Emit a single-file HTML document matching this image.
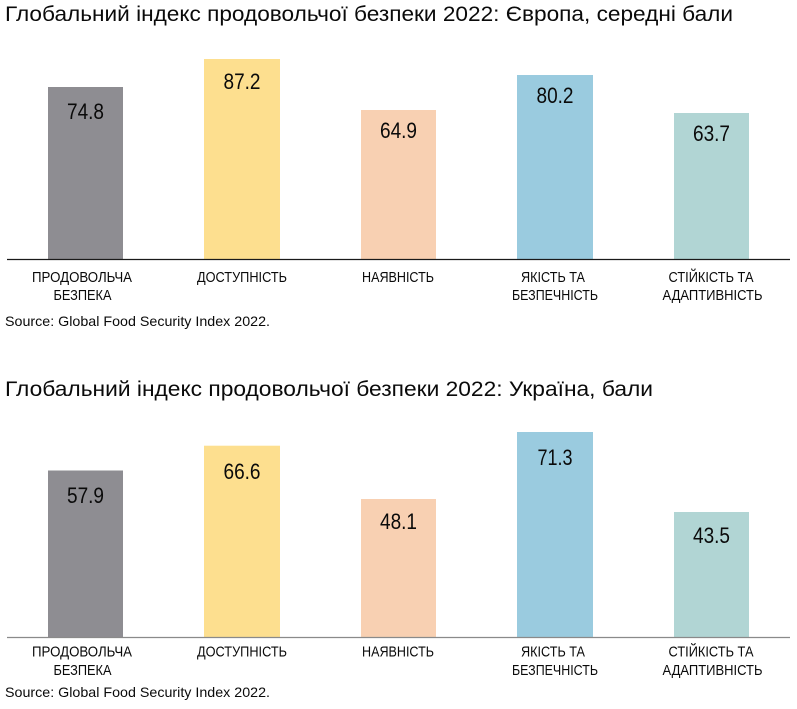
<!DOCTYPE html>
<html>
<head>
<meta charset="utf-8">
<style>
  html,body{margin:0;padding:0;background:#fff;}
  svg{display:block;}
  text{font-family:"Liberation Sans", sans-serif; fill:#0a0a0a;}
  .t{font-size:21px;}
  .v{font-size:22px;}
  .c{font-size:14.5px;}
  .s{font-size:14px;}
</style>
</head>
<body>
<svg width="797" height="709" viewBox="0 0 797 709" xmlns="http://www.w3.org/2000/svg">
  <!-- Chart 1 -->
  <text class="t" x="5" y="21" textLength="728" lengthAdjust="spacingAndGlyphs">Глобальний індекс продовольчої безпеки 2022: Європа, середні бали</text>

  <rect x="48" y="87" width="75" height="172" fill="#8e8d92"/>
  <rect x="204" y="59" width="76" height="200" fill="#fddf8f"/>
  <rect x="361" y="110" width="75" height="149" fill="#f8d0b2"/>
  <rect x="517" y="75" width="76" height="184" fill="#9acbdf"/>
  <rect x="674" y="113" width="75" height="146" fill="#b1d5d4"/>

  <line x1="7" y1="259.5" x2="790" y2="259.5" stroke="#1a1a1a" stroke-width="1.2"/>

  <text class="v" x="85.5" y="119" text-anchor="middle" textLength="37" lengthAdjust="spacingAndGlyphs">74.8</text>
  <text class="v" x="242" y="89" text-anchor="middle" textLength="37" lengthAdjust="spacingAndGlyphs">87.2</text>
  <text class="v" x="398.5" y="138" text-anchor="middle" textLength="37" lengthAdjust="spacingAndGlyphs">64.9</text>
  <text class="v" x="555" y="103" text-anchor="middle" textLength="37" lengthAdjust="spacingAndGlyphs">80.2</text>
  <text class="v" x="711.5" y="141" text-anchor="middle" textLength="37" lengthAdjust="spacingAndGlyphs">63.7</text>

  <text class="c" x="82" y="282" text-anchor="middle" textLength="100" lengthAdjust="spacingAndGlyphs">ПРОДОВОЛЬЧА</text>
  <text class="c" x="82.5" y="300" text-anchor="middle" textLength="58" lengthAdjust="spacingAndGlyphs">БЕЗПЕКА</text>
  <text class="c" x="242" y="282" text-anchor="middle" textLength="90" lengthAdjust="spacingAndGlyphs">ДОСТУПНІСТЬ</text>
  <text class="c" x="398" y="282" text-anchor="middle" textLength="72" lengthAdjust="spacingAndGlyphs">НАЯВНІСТЬ</text>
  <text class="c" x="553" y="282" text-anchor="middle" textLength="64" lengthAdjust="spacingAndGlyphs">ЯКІСТЬ ТА</text>
  <text class="c" x="555" y="300" text-anchor="middle" textLength="86" lengthAdjust="spacingAndGlyphs">БЕЗПЕЧНІСТЬ</text>
  <text class="c" x="711" y="282" text-anchor="middle" textLength="85" lengthAdjust="spacingAndGlyphs">СТІЙКІСТЬ ТА</text>
  <text class="c" x="712.5" y="300" text-anchor="middle" textLength="100" lengthAdjust="spacingAndGlyphs">АДАПТИВНІСТЬ</text>

  <text class="s" x="5" y="326" textLength="265" lengthAdjust="spacingAndGlyphs">Source: Global Food Security Index 2022.</text>

  <!-- Chart 2 -->
  <text class="t" x="5" y="396" textLength="648" lengthAdjust="spacingAndGlyphs">Глобальний індекс продовольчої безпеки 2022: Україна, бали</text>

  <rect x="48" y="470.5" width="75" height="166.5" fill="#8e8d92"/>
  <rect x="204" y="445.7" width="76" height="191.3" fill="#fddf8f"/>
  <rect x="361" y="499" width="75" height="138" fill="#f8d0b2"/>
  <rect x="517" y="432" width="76" height="205" fill="#9acbdf"/>
  <rect x="674" y="512" width="75" height="125" fill="#b1d5d4"/>

  <line x1="7" y1="637.5" x2="790" y2="637.5" stroke="#8a8a8a" stroke-width="1.2"/>

  <text class="v" x="85.5" y="503" text-anchor="middle" textLength="37" lengthAdjust="spacingAndGlyphs">57.9</text>
  <text class="v" x="242" y="479" text-anchor="middle" textLength="37" lengthAdjust="spacingAndGlyphs">66.6</text>
  <text class="v" x="398.5" y="529" text-anchor="middle" textLength="37" lengthAdjust="spacingAndGlyphs">48.1</text>
  <text class="v" x="555" y="465" text-anchor="middle" textLength="35" lengthAdjust="spacingAndGlyphs">71.3</text>
  <text class="v" x="711.5" y="543" text-anchor="middle" textLength="37" lengthAdjust="spacingAndGlyphs">43.5</text>

  <text class="c" x="82" y="656.5" text-anchor="middle" textLength="100" lengthAdjust="spacingAndGlyphs">ПРОДОВОЛЬЧА</text>
  <text class="c" x="82.5" y="675" text-anchor="middle" textLength="58" lengthAdjust="spacingAndGlyphs">БЕЗПЕКА</text>
  <text class="c" x="242" y="656.5" text-anchor="middle" textLength="90" lengthAdjust="spacingAndGlyphs">ДОСТУПНІСТЬ</text>
  <text class="c" x="398" y="656.5" text-anchor="middle" textLength="72" lengthAdjust="spacingAndGlyphs">НАЯВНІСТЬ</text>
  <text class="c" x="553" y="656.5" text-anchor="middle" textLength="64" lengthAdjust="spacingAndGlyphs">ЯКІСТЬ ТА</text>
  <text class="c" x="555" y="675" text-anchor="middle" textLength="86" lengthAdjust="spacingAndGlyphs">БЕЗПЕЧНІСТЬ</text>
  <text class="c" x="711" y="656.5" text-anchor="middle" textLength="85" lengthAdjust="spacingAndGlyphs">СТІЙКІСТЬ ТА</text>
  <text class="c" x="712.5" y="675" text-anchor="middle" textLength="100" lengthAdjust="spacingAndGlyphs">АДАПТИВНІСТЬ</text>

  <text class="s" x="5" y="697" textLength="265" lengthAdjust="spacingAndGlyphs">Source: Global Food Security Index 2022.</text>
</svg>
</body>
</html>
